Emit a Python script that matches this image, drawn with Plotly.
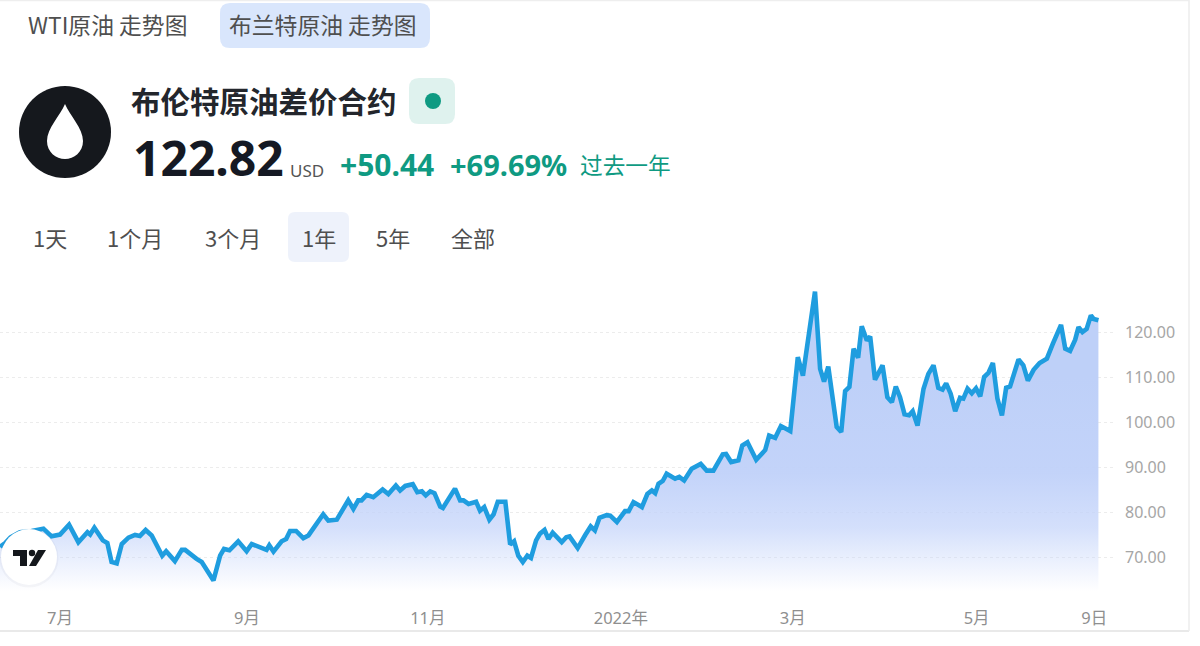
import pandas as pd
import plotly.graph_objects as go

W, H = 1200, 646
START = pd.Timestamp("2021-07-01")

# Days after 1 July 2021, and Brent price (USD)
days = [-19.9,-18.2,-16.4,-13.3,-9.4,-5.5,-2.8,0,3,6.1,9.1,10,11.4,14.2,15.7,17.1,18.8,20.5,22.7,24.9,26.5,28.4,30.4,33.9,35.2,38.1,40.4,41.5,45.3,47,50.9,53.1,54.4,56.2,59.1,61.9,63.6,65.2,68.5,69.4,70.8,73.5,75,76.3,78.3,80.7,82.4,87.3,89,91.8,95.6,97.3,98.9,100,101.7,103.9,107,108.9,111.4,
        112.8,114.5,117,118.5,120,121.3,122.8,124.2,126.1,127,131,132.7,133.8,135.5,138,139.3,140.7,142.4,143.8,145.2,147.7,149.3,150.6,152,153.5,155,156.2,157.9,159.2,160.7,162,163.4,166.4,167.9,169,171.7,174.2,176,177.4,178.9,181.3,182.5,184.7,187.4,188.6,190.2,193,194.8,196.3,197.4,198.5,199.9,201.2,204,205.4,207,209.5,212.5,214.5,216.7,219.8,220.9,222.6,225,226.3,228,230.9,
        232.2,233.9,235.2,237.2,239.1,242.2,244.7,246.4,250.4,252.1,253.4,254.8,257.6,259.1,260.4,261.8,263.2,264.7,265.9,267.6,268.7,270.3,272.8,274.4,275.9,277.2,278.6,280.1,281.6,282.8,284.4,286.4,288,289.7,291.3,292.7,293.9,295.4,296.9,298.5,299.6,301,302.4,303.8,305.2,306.5,307.9,309.4,310.9,312.4,313.8,315.1,317.9,319.5,321,322.9,324.9,327.3,329.3,332,333.4,335,336.7,337.8,339.1,340.5,341.9,342.8,344.4]
prices = [72.4,73.2,74.5,75.6,75.9,76.4,74.7,75.1,77.3,73.4,75.6,75.1,76.6,73.8,73.2,69.0,68.7,73.0,74.4,75.0,74.8,76.1,74.9,70.4,71.4,69.2,71.7,71.7,69.7,69.0,64.9,70.4,71.9,71.6,73.6,71.4,73.0,72.6,71.7,72.7,71.3,73.6,74.1,75.9,75.9,74.3,74.9,79.6,78.2,78.4,82.7,80.8,82.7,82.7,83.9,83.4,85.1,84.1,86.0,
          84.9,85.9,86.3,84.5,84.7,83.8,84.7,84.3,81.3,81.0,85.3,82.7,82.7,81.9,82.4,80.4,81.2,78.4,79.6,82.4,82.4,72.9,73.6,70.4,69.0,70.4,69.9,73.8,75.3,76.1,74.1,75.5,73.4,74.5,74.7,72.1,75.0,76.9,76.0,78.8,79.4,79.3,77.9,80.3,80.3,82.3,81.2,84.1,84.9,84.3,86.4,87.0,88.6,87.5,87.9,87.1,89.7,90.8,89.3,89.3,92.9,93.0,91.2,91.6,94.9,95.6,91.7,
          92.7,93.9,97.1,96.6,99.2,98.1,114.5,110.4,129.1,111.9,109.1,112.4,99.0,97.9,107.0,107.9,116.4,114.4,121.4,118.2,119.1,109.5,112.7,105.6,104.5,108.0,105.6,101.8,101.6,102.5,99.3,107.5,110.8,112.7,107.7,107.3,108.7,106.4,102.5,105.5,105.3,107.5,106.5,107.6,105.8,110.1,111.0,113.2,105.3,101.6,107.7,108.0,114.0,112.7,109.3,111.7,113.2,114.2,117.5,121.7,116.4,115.9,118.4,121.2,120.1,120.8,123.8,123.0,122.7]

x_tick_dates = ["2021-07-01","2021-09-01","2021-10-31","2022-01-03","2022-03-01","2022-05-01","2022-06-09"]
x_tick_labels = ["7月","9月","11月","2022年","3月","5月","9日"]
y_ticks = [70,80,90,100,110,120]

tabs = ["WTI原油 走势图","布兰特原油 走势图"]
periods = ["1天","1个月","3个月","1年","5年","全部"]
title = "布伦特原油差价合约"

CJK = "Noto Sans CJK SC"
NUM = "Noto Sans, Noto Sans CJK SC"
TEAL = "#0f9a82"

dates = [START + pd.to_timedelta(d, unit="D") for d in days]

def X(p): return p / W
def Y(p): return 1 - p / H

fig = go.Figure()
fig.add_trace(go.Scatter(
    x=dates, y=prices, mode="lines",
    line=dict(color="#1f9ddf", width=4.6, shape="linear"),
    fill="tozeroy",
    fillgradient=dict(type="vertical", start=62.5, stop=110,
        colorscale=[[0,"rgba(200,215,250,0)"],[0.08,"rgba(198,213,250,0.2)"],[0.3,"rgba(195,211,250,0.72)"],[0.55,"rgba(192,209,249,0.95)"],[1,"rgba(190,208,248,1)"]]),
    hoverinfo="skip", showlegend=False))

def rrect(x0, y0, x1, y1, r, color):
    p = (f"M {X(x0+r)} {Y(y0)} L {X(x1-r)} {Y(y0)} Q {X(x1)} {Y(y0)} {X(x1)} {Y(y0+r)} "
         f"L {X(x1)} {Y(y1-r)} Q {X(x1)} {Y(y1)} {X(x1-r)} {Y(y1)} "
         f"L {X(x0+r)} {Y(y1)} Q {X(x0)} {Y(y1)} {X(x0)} {Y(y1-r)} "
         f"L {X(x0)} {Y(y0+r)} Q {X(x0)} {Y(y0)} {X(x0+r)} {Y(y0)} Z")
    return dict(type="path", xref="paper", yref="paper", path=p, fillcolor=color, line_width=0, layer="below")

def circle(cx, cy, r, color, line=None):
    return dict(type="circle", xref="paper", yref="paper", x0=X(cx-r), x1=X(cx+r), y0=Y(cy+r), y1=Y(cy-r),
                fillcolor=color, line=line or dict(width=0), layer="above")

def poly(pts, color, closed=True):
    p = "M " + " L ".join(f"{X(a)} {Y(b)}" for a, b in pts) + (" Z" if closed else "")
    return dict(type="path", xref="paper", yref="paper", path=p, fillcolor=color, line_width=0, layer="above")

shapes = [
    rrect(220, 3, 430, 48, 10, "#d9e6fc"),
    rrect(409, 78, 455, 124, 10, "#dff2ee"),
    rrect(288, 212, 349, 262, 7, "#eef2fb"),
    circle(65, 132, 46, "#15181d"),
    circle(433, 101, 8, "#0f9a82"),
    dict(type="path", xref="paper", yref="paper", layer="above", fillcolor="#ffffff", line_width=0,
         path=(f"M {X(65)} {Y(104)} C {X(70)} {Y(116)} {X(83)} {Y(128)} {X(83)} {Y(141)} "
               f"C {X(83)} {Y(152)} {X(74)} {Y(159)} {X(65)} {Y(159)} "
               f"C {X(56)} {Y(159)} {X(47)} {Y(152)} {X(47)} {Y(141)} "
               f"C {X(47)} {Y(128)} {X(60)} {Y(116)} {X(65)} {Y(104)} Z")),
    # chart frame
    dict(type="line", xref="paper", yref="paper", x0=0, x1=X(1189), y0=Y(631), y1=Y(631), line=dict(color="#e2e2e2", width=1.5)),
    dict(type="line", xref="paper", yref="paper", x0=X(1189), x1=X(1189), y0=Y(0), y1=Y(631), line=dict(color="#ececec", width=1.5)),
    dict(type="line", xref="paper", yref="paper", x0=0, x1=X(1189), y0=Y(0.5), y1=Y(0.5), line=dict(color="#eeeeee", width=1.5)),
    # TradingView badge
    circle(29, 558, 29.5, "rgba(120,120,130,0.06)"),
    circle(29, 557, 28, "#ffffff"),
    poly([(13,550),(27,550),(27,566),(20,566),(20,556),(13,556)], "#14171c"),
    circle(32, 553, 3.2, "#14171c"),
    poly([(38,550),(46,550),(36,566),(29,566)], "#14171c"),
]

def note(text, x, y, size, color, anchor="left", font=CJK):
    return dict(text=text, x=X(x), y=Y(y), xref="paper", yref="paper", xanchor=anchor, yanchor="middle",
                showarrow=False, font=dict(family=font, size=size, color=color), borderpad=0, borderwidth=0)

annotations = [
    note(tabs[0], 28, 24.5, 22.8, "#4f4f4f"),
    note(tabs[1], 229, 24.5, 22.8, "#4f4f4f"),
    note(f"<b>{title}</b>", 131, 99.5, 29.5, "#23262c"),
    note("<b>122.82</b>", 133, 157, 48, "#151923", font=NUM),
    note("USD", 290, 171, 17, "#555555", font=NUM),
    note("<b>+50.44</b>", 340, 164, 30, TEAL, font=NUM),
    note("<b>+69.69%</b>", 450, 164, 29, TEAL, font=NUM),
    note("过去一年", 580, 164.5, 22.7, TEAL),
]
for label, xp in zip(periods, [33, 107, 205, 302, 376, 451]):
    annotations.append(note(label, xp, 236.5, 22, "#4f4f4f"))

fig.update_layout(
    width=W, height=H, margin=dict(l=0, r=0, t=0, b=0),
    paper_bgcolor="#ffffff", plot_bgcolor="rgba(0,0,0,0)",
    xaxis=dict(domain=[0, X(1115)],
               range=[START + pd.to_timedelta(-19.9, unit="D"), START + pd.to_timedelta(349.9, unit="D")],
               tickmode="array", tickvals=x_tick_dates, ticktext=x_tick_labels,
               showgrid=False, zeroline=False, showline=False, ticks="",
               ticklabelstandoff=14,
               tickfont=dict(family=NUM, size=16.5, color="#8f8f8f")),
    yaxis=dict(domain=[Y(592.5), Y(285.5)], range=[62.22, 130.44], side="right",
               tickmode="array", tickvals=y_ticks, tickformat=".2f",
               showgrid=True, gridcolor="#ececec", griddash="dot", gridwidth=1,
               zeroline=False, showline=False, ticks="", ticklabelstandoff=9,
               tickfont=dict(family=NUM, size=16, color="#a6a6a6")),
    shapes=shapes, annotations=annotations, hovermode=False,
)

fig.write_html("out.html", config={"displayModeBar": False},
               post_script="document.body.style.margin='0';")
